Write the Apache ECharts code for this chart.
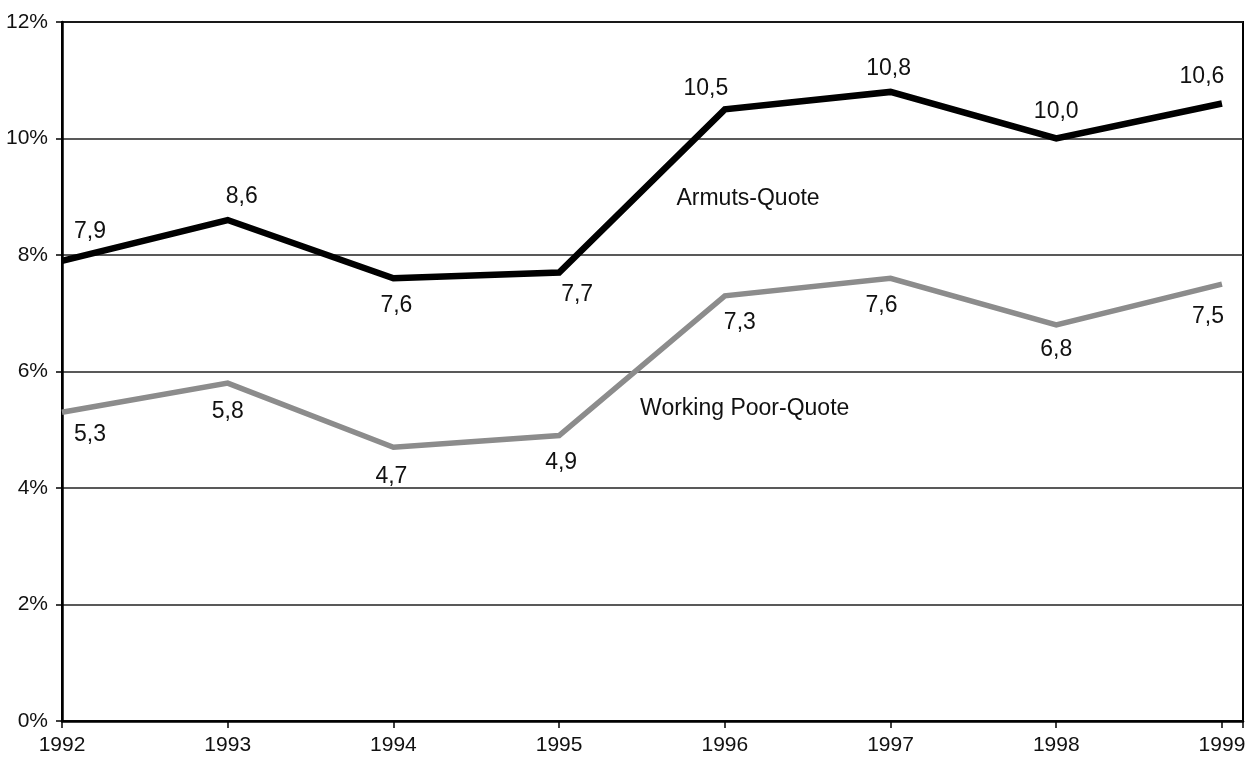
<!DOCTYPE html>
<html>
<head>
<meta charset="utf-8">
<script src="https://cdn.jsdelivr.net/npm/echarts@6/dist/echarts.min.js"></script>
<style>
html,body{margin:0;padding:0;background:#fff;}
#c{width:1252px;height:760px;}
</style>
</head>
<body>
<div id="c"></div>
<script>
var years = [1992, 1993, 1994, 1995, 1996, 1997, 1998, 1999];
var armutsQuote = [7.9, 8.6, 7.6, 7.7, 10.5, 10.8, 10.0, 10.6];
var workingPoorQuote = [5.3, 5.8, 4.7, 4.9, 7.3, 7.6, 6.8, 7.5];
var yTicks = [0, 2, 4, 6, 8, 10, 12];
var seriesNames = ['Armuts-Quote', 'Working Poor-Quote'];

// label offsets in pixels (style only)
var armOff = [[28,-29],[14,-23],[3,27],[18,22],[-19,-21],[-2,-23],[0,-27],[-20,-27]];
var wpOff = [[28,22],[0,29],[-2,29],[2,27],[15,27],[-9,27],[0,25],[-14,33]];

var FONT = 'Liberation Sans, Arial, Helvetica, sans-serif';

function build(vals, offs) {
  return years.map(function (y, i) {
    return { value: [y, vals[i]], label: { offset: offs[i] } };
  });
}
function fmt(p) { return p.value[1].toFixed(1).replace('.', ','); }

var chart = echarts.init(document.getElementById('c'), null, { renderer: 'canvas' });
chart.setOption({
  backgroundColor: '#ffffff',
  animation: false,
  grid: { left: 62, right: 9, top: 22, bottom: 39, show: true, borderColor: '#000', borderWidth: 2, backgroundColor: 'transparent' },
  xAxis: {
    type: 'value', min: 1992, max: 1999.127, interval: 1,
    axisLine: { show: true, lineStyle: { color: '#000', width: 2.5 } },
    axisTick: { show: true, length: 7, lineStyle: { color: '#000', width: 1.5 } },
    axisLabel: {
      color: '#111', fontSize: 21, fontFamily: FONT, margin: 14,
      formatter: function (v) { return Math.abs(v - Math.round(v)) < 1e-6 ? String(Math.round(v)) : ''; }
    },
    splitLine: { show: false }
  },
  yAxis: {
    type: 'value', min: 0, max: 12, interval: 2,
    axisLine: { show: true, lineStyle: { color: '#000', width: 2.5 } },
    axisTick: { show: true, length: 6, lineStyle: { color: '#000', width: 1.5 } },
    axisLabel: { color: '#111', fontSize: 21, fontFamily: FONT, margin: 14, formatter: function (v) { return yTicks.indexOf(v) >= 0 ? v + '%' : ''; } },
    splitLine: { show: true, lineStyle: { color: '#222', width: 1.5 } }
  },
  series: [
    {
      name: seriesNames[0], type: 'line', data: build(armutsQuote, armOff),
      symbol: 'circle', symbolSize: 0.1,
      itemStyle: { color: '#000' },
      lineStyle: { color: '#000', width: 6.5, join: 'miter' },
      label: { show: true, position: 'inside', formatter: fmt, color: '#111', fontSize: 23, fontFamily: FONT },
      z: 5
    },
    {
      name: seriesNames[1], type: 'line', data: build(workingPoorQuote, wpOff),
      symbol: 'circle', symbolSize: 0.1,
      itemStyle: { color: '#8c8c8c' },
      lineStyle: { color: '#8c8c8c', width: 5.5, join: 'miter' },
      label: { show: true, position: 'inside', formatter: fmt, color: '#111', fontSize: 23, fontFamily: FONT },
      z: 4
    }
  ]
});

var p1 = chart.convertToPixel({ gridIndex: 0 }, [1996.14, 8.97]);
var p2 = chart.convertToPixel({ gridIndex: 0 }, [1996.12, 5.36]);
chart.setOption({
  graphic: [
    { type: 'text', x: p1[0], y: p1[1], style: { text: seriesNames[0], font: '23px ' + FONT, fill: '#111', textAlign: 'center', textVerticalAlign: 'middle' } },
    { type: 'text', x: p2[0], y: p2[1], style: { text: seriesNames[1], font: '23px ' + FONT, fill: '#111', textAlign: 'center', textVerticalAlign: 'middle' } }
  ]
});
</script>
</body>
</html>
